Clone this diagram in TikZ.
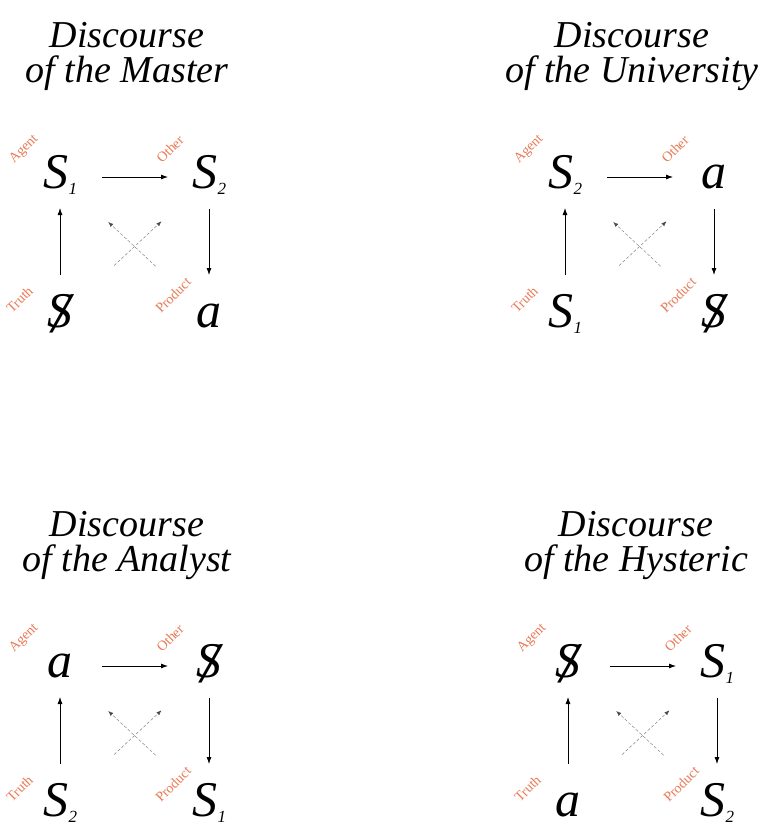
\documentclass[tikz,border=0pt]{standalone}
\usepackage{fontspec}
\setmainfont{Liberation Serif}
\usepackage{tikz}
\usetikzlibrary{arrows.meta,calc}

\definecolor{rolecol}{RGB}{234,120,84}
\newcommand{\sbs}[1]{S\kern.5pt\raisebox{-6pt}{\fontsize{17}{17}\selectfont #1}}
\newcommand{\barS}{\ooalign{S\cr\hidewidth\kern2pt\raisebox{-5pt}{\scalebox{1.25}[1.15]{/}}\hidewidth\cr}}

\begin{document}
\begin{tikzpicture}[x=1pt,y=-1pt,
  title/.style={font=\fontsize{38}{35}\selectfont\itshape, align=center, anchor=north, inner sep=0pt},
  term/.style={font=\fontsize{50}{50}\selectfont\itshape, text height=26pt, text depth=4pt, inner sep=0pt},
  role/.style={font=\fontsize{14}{14}\selectfont, text=rolecol, rotate=45, anchor=base west, inner sep=0pt},
  rightarr/.style={-{Latex[length=7pt,width=5pt]}, line width=0.8pt, shorten <=42pt, shorten >=41pt},
  uparr/.style={-{Latex[length=7pt,width=5pt]}, line width=0.8pt, shorten <=41pt, shorten >=31pt},
  downarr/.style={-{Latex[length=7pt,width=5pt]}, line width=0.8pt, shorten <=32pt, shorten >=41pt},
  diagup/.style={-{Latex[length=5pt,width=4pt,black!70]}, gray, densely dashed, line width=0.5pt, shorten <=74pt, shorten >=65pt},
  diagback/.style={-{Latex[length=5pt,width=4pt,black!70]}, gray, densely dashed, line width=0.5pt, shorten <=73pt, shorten >=66pt}]
\useasboundingbox (0,0) rectangle (772,828);

% master
\node[title] (m-title) at (127,22) {Discourse\\of the Master};
\node[term] (m-agent) at (60,177) {\sbs{1}};
\node[term] (m-other) at (209,177) {\sbs{2}};
\node[term] (m-truth) at (60,316) {\barS};
\node[term] (m-prod) at (209,316) {a};
\node[role] at ($(m-agent)+(-46,-13)$) {Agent};
\node[role] at ($(m-other)+(-47,-13)$) {Other};
\node[role] at ($(m-truth)+(-48,-2)$) {Truth};
\node[role] at ($(m-prod)+(-48,-2)$) {Product};
\draw[rightarr] (m-agent.center) -- (m-other.center);
\draw[uparr] (m-truth.center) -- (m-agent.center);
\draw[downarr] (m-other.center) -- (m-prod.center);
\draw[diagup] (m-truth.center) -- (m-other.center);
\draw[diagback] (m-prod.center) -- (m-agent.center);

% university
\begin{scope}[shift={(505,0)}]
\node[title] (u-title) at (127,22) {Discourse\\of the University};
\node[term] (u-agent) at (60,177) {\sbs{2}};
\node[term] (u-other) at (209,177) {a};
\node[term] (u-truth) at (60,316) {\sbs{1}};
\node[term] (u-prod) at (209,316) {\barS};
\node[role] at ($(u-agent)+(-46,-13)$) {Agent};
\node[role] at ($(u-other)+(-47,-13)$) {Other};
\node[role] at ($(u-truth)+(-48,-2)$) {Truth};
\node[role] at ($(u-prod)+(-48,-2)$) {Product};
\draw[rightarr] (u-agent.center) -- (u-other.center);
\draw[uparr] (u-truth.center) -- (u-agent.center);
\draw[downarr] (u-other.center) -- (u-prod.center);
\draw[diagup] (u-truth.center) -- (u-other.center);
\draw[diagback] (u-prod.center) -- (u-agent.center);
\end{scope}

% analyst
\begin{scope}[shift={(0,489)}]
\node[title] (a-title) at (127,22) {Discourse\\of the Analyst};
\node[term] (a-agent) at (60,177) {a};
\node[term] (a-other) at (209,177) {\barS};
\node[term] (a-truth) at (60,316) {\sbs{2}};
\node[term] (a-prod) at (209,316) {\sbs{1}};
\node[role] at ($(a-agent)+(-46,-13)$) {Agent};
\node[role] at ($(a-other)+(-47,-13)$) {Other};
\node[role] at ($(a-truth)+(-48,-2)$) {Truth};
\node[role] at ($(a-prod)+(-48,-2)$) {Product};
\draw[rightarr] (a-agent.center) -- (a-other.center);
\draw[uparr] (a-truth.center) -- (a-agent.center);
\draw[downarr] (a-other.center) -- (a-prod.center);
\draw[diagup] (a-truth.center) -- (a-other.center);
\draw[diagback] (a-prod.center) -- (a-agent.center);
\end{scope}

% hysteric
\begin{scope}[shift={(508,489)}]
\node[title] (h-title) at (128,22) {Discourse\\of the Hysteric};
\node[term] (h-agent) at (60,177) {\barS};
\node[term] (h-other) at (209,177) {\sbs{1}};
\node[term] (h-truth) at (60,316) {a};
\node[term] (h-prod) at (209,316) {\sbs{2}};
\node[role] at ($(h-agent)+(-46,-13)$) {Agent};
\node[role] at ($(h-other)+(-47,-13)$) {Other};
\node[role] at ($(h-truth)+(-48,-2)$) {Truth};
\node[role] at ($(h-prod)+(-48,-2)$) {Product};
\draw[rightarr] (h-agent.center) -- (h-other.center);
\draw[uparr] (h-truth.center) -- (h-agent.center);
\draw[downarr] (h-other.center) -- (h-prod.center);
\draw[diagup] (h-truth.center) -- (h-other.center);
\draw[diagback] (h-prod.center) -- (h-agent.center);
\end{scope}

\end{tikzpicture}
\end{document}
